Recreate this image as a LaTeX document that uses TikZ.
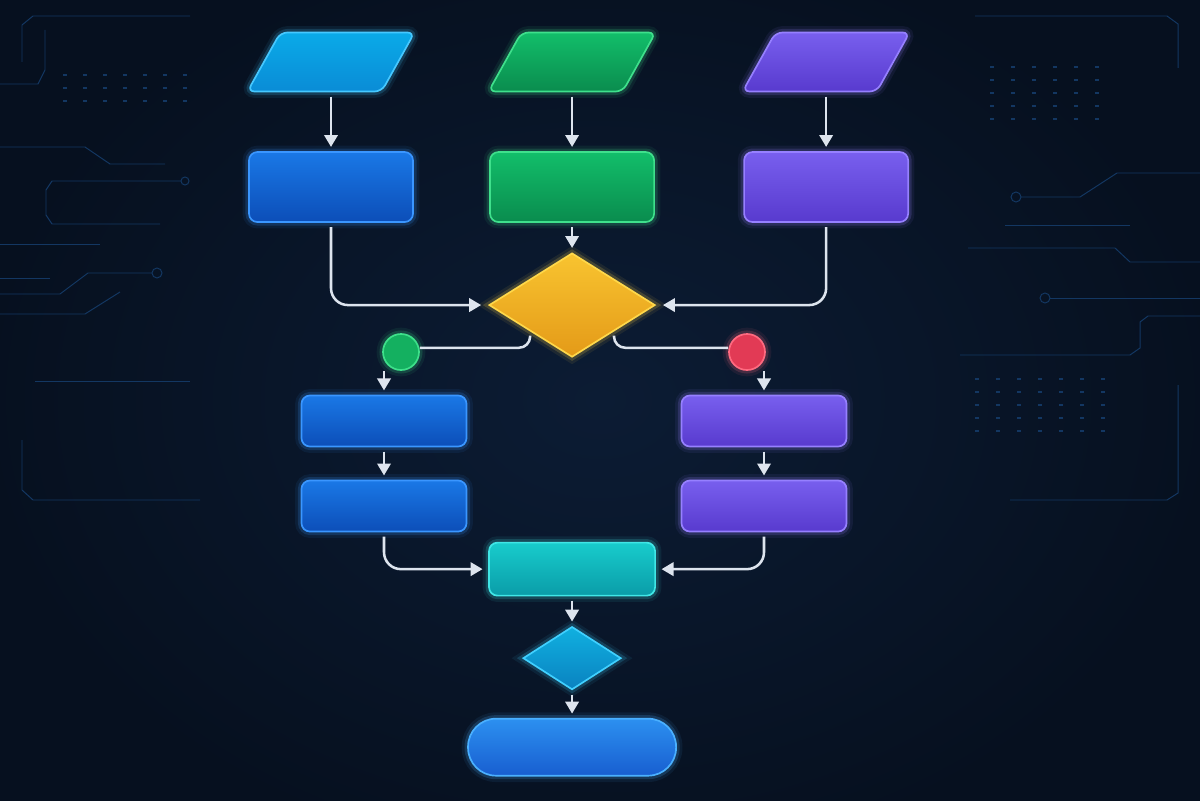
\documentclass[tikz,border=0pt]{standalone}
\usepackage{tikz}
\usetikzlibrary{arrows.meta,shapes.geometric}
\usetikzlibrary{positioning}
\definecolor{bgnavy}{HTML}{06101F}
\definecolor{bgglow}{HTML}{0C1C34}
\definecolor{tracecol}{HTML}{133762}
\definecolor{flowcol}{HTML}{DDE4EE}
\definecolor{cyantop}{HTML}{0AAAE8}
\definecolor{cyanbot}{HTML}{0A8CD6}
\definecolor{cyanedge}{HTML}{46C8FF}
\definecolor{bluetop}{HTML}{1A78E6}
\definecolor{bluebot}{HTML}{0C4EB8}
\definecolor{blueedge}{HTML}{3A96FF}
\definecolor{greentop}{HTML}{12BE6A}
\definecolor{greenbot}{HTML}{0A8C4E}
\definecolor{greenedge}{HTML}{3FE08C}
\definecolor{purpletop}{HTML}{785FEE}
\definecolor{purplebot}{HTML}{583ACE}
\definecolor{purpleedge}{HTML}{9680FF}
\definecolor{yellowtop}{HTML}{F8C430}
\definecolor{yellowbot}{HTML}{E49A18}
\definecolor{yellowedge}{HTML}{FFD84A}
\definecolor{tealtop}{HTML}{18CCCC}
\definecolor{tealbot}{HTML}{0A9CA8}
\definecolor{tealedge}{HTML}{40E6E6}
\definecolor{skytop}{HTML}{10B0E0}
\definecolor{skybot}{HTML}{0A82C0}
\definecolor{skyedge}{HTML}{40D0FF}
\definecolor{endtop}{HTML}{2C90F0}
\definecolor{endbot}{HTML}{185ED0}
\definecolor{endedge}{HTML}{4AB0FF}
\definecolor{okfill}{HTML}{14B060}
\definecolor{okedge}{HTML}{3EE08A}
\definecolor{nofill}{HTML}{E23A55}
\definecolor{noedge}{HTML}{FF6A80}
\tikzset{
    glow/.style={
           preaction={draw=#1, line width=9pt, draw opacity=0.08},
           preaction={draw=#1, line width=5pt, draw opacity=0.18},
           },
    inbox/.style={
           trapezium,
           trapezium left angle=72,
           trapezium right angle=108,
           trapezium stretches=true,
           minimum width=4.175cm,
           minimum height=1.475cm,
           rounded corners=5pt,
           line width=1.2pt,
           inner sep=2pt,
           },
    procbox/.style={
           rectangle,
           rounded corners=6pt,
           minimum width=4.1cm,
           minimum height=1.75cm,
           line width=1.2pt,
           },
    stepbox/.style={
           rectangle,
           rounded corners=6pt,
           minimum width=4.125cm,
           minimum height=1.275cm,
           line width=1.2pt,
           },
    choice/.style={
           diamond,
           inner sep=1pt,
           line width=1.2pt,
           },
    dot/.style={
           circle,
           minimum size=0.9cm,
           inner sep=0pt,
           line width=1.2pt,
           },
    flow/.style={
           ->, draw=flowcol, line width=1.8pt,
           shorten <=3pt, shorten >=3pt,
           },
    joint/.style={
           draw=flowcol, line width=1.8pt, rounded corners=8pt,
           },
    trace/.style={draw=tracecol, line width=0.7pt},
    % colour sets
    paint/.style={top color=#1top, bottom color=#1bot, draw=#1edge, glow=#1edge},
}

\begin{document}
\begin{tikzpicture}[x=0.025cm, y=-0.025cm, >={Triangle[length=8.5pt,width=9.5pt]}]
 \useasboundingbox (0,0) rectangle (1200,800);
 % background and faint circuit traces
 \begin{scope}
  \clip (-5,-5) rectangle (1205,805);
  \fill[bgnavy] (-5,-5) rectangle (1205,805);
  \shade[inner color=bgglow, outer color=bgnavy] (600,400) ellipse (620 and 470);
  \draw[trace] (22,62) -- (22,25) -- (33,16) -- (190,16);
  \draw[trace] (45,30) -- (45,70) -- (38,84) -- (0,84);
  \draw[trace] (0,147) -- (85,147) -- (110,164) -- (165,164);
  \draw[trace] (181,181) -- (52,181) -- (46,190) -- (46,215) -- (52,224) -- (160,224);
  \draw[trace] (185,181) circle (4);
  \draw[trace] (0,244) -- (100,244);
  \draw[trace] (0,278) -- (50,278);
  \draw[trace] (0,294) -- (60,294) -- (88,273) -- (152,273);
  \draw[trace] (157,273) circle (5);
  \draw[trace] (0,314) -- (85,314) -- (120,292);
  \draw[trace] (35,381) -- (190,381);
  \draw[trace] (22,440) -- (22,490) -- (33,500) -- (200,500);
  \draw[trace] (975,16) -- (1167,16) -- (1178,24) -- (1178,68);
  \draw[trace] (1200,173) -- (1117,173) -- (1080,197) -- (1021,197);
  \draw[trace] (1016,197) circle (5);
  \draw[trace] (1005,225) -- (1130,225);
  \draw[trace] (968,248) -- (1115,248) -- (1130,262) -- (1200,262);
  \draw[trace] (1050,298) -- (1200,298);
  \draw[trace] (1045,298) circle (5);
  \draw[trace] (960,355) -- (1130,355) -- (1140,348) -- (1140,322) -- (1148,316) -- (1200,316);
  \draw[trace] (1178,385) -- (1178,493) -- (1167,500) -- (1010,500);
  \foreach \x in {65,85,...,185} {
    \foreach \y in {75,88,101} {
      \fill[tracecol] (\x-2,\y-1) rectangle (\x+2,\y+1);
    }
  }
  \foreach \x in {992,1013,...,1117} {
    \foreach \y in {67,80,93,106,119} {
      \fill[tracecol] (\x-2,\y-1) rectangle (\x+2,\y+1);
    }
  }
  \foreach \x in {977,998,...,1117} {
    \foreach \y in {379,392,405,418,431} {
      \fill[tracecol] (\x-2,\y-1) rectangle (\x+2,\y+1);
    }
  }
 \end{scope}

 % inputs
 \node[inbox, paint=cyan] (inA) at (331,62) {};
 \node[inbox, paint=green,
 right of=inA,
 node distance=6.025cm] (inB) {};
 \node[inbox, paint=purple,
 right of=inB,
 node distance=6.35cm] (inC) {};

 % processes
 \node[procbox, paint=blue,
 below of=inA,
 node distance=3.125cm] (procA) {};
 \node[procbox, paint=green,
 below of=inB,
 node distance=3.125cm] (procB) {};
 \node[procbox, paint=purple,
 below of=inC,
 node distance=3.125cm] (procC) {};

 % decision
 \node[choice, paint=yellow,
 minimum width=4.15cm,
 minimum height=2.6cm,
 below of=procB,
 node distance=2.95cm] (decide) {};

 % yes / no markers
 \node[dot, fill=okfill, draw=okedge, glow=okedge] (yesdot) at (401,352) {};
 \node[dot, fill=nofill, draw=noedge, glow=noedge] (nodot) at (747,352) {};

 % branches
 \node[stepbox, paint=blue] (leftA) at (384,421) {};
 \node[stepbox, paint=blue,
 below of=leftA,
 node distance=2.125cm] (leftB) {};
 \node[stepbox, paint=purple] (rightA) at (764,421) {};
 \node[stepbox, paint=purple,
 below of=rightA,
 node distance=2.125cm] (rightB) {};

 % merge, check, end
 \node[stepbox, paint=teal,
 minimum width=4.15cm,
 minimum height=1.325cm,
 below of=decide,
 node distance=6.6cm] (merge) {};
 \node[choice, paint=sky,
 minimum width=2.45cm,
 minimum height=1.575cm,
 below of=merge,
 node distance=2.225cm] (check) {};
 \node[rectangle, rounded corners=0.7cm, line width=1.2pt, paint=end,
 minimum width=5.2cm,
 minimum height=1.425cm,
 below of=check,
 node distance=2.225cm] (finish) {};

 % draw the connectors
 \draw[flow] (inA) -- (procA);
 \draw[flow] (inB) -- (procB);
 \draw[flow] (inC) -- (procC);
 \draw[flow] (procB) -- (decide);
 \draw[flow, rounded corners=12pt, shorten >=5pt] (procA) |- (decide);
 \draw[flow, rounded corners=12pt, shorten >=5pt] (procC) |- (decide);
 \draw[joint] ([yshift=-3pt]decide.south west) |- ([yshift=3pt]yesdot.east);
 \draw[joint] ([yshift=-3pt]decide.south east) |- ([yshift=3pt]nodot.west);
 \draw[flow, shorten <=0pt] (yesdot.south -| leftA.north) -- (leftA);
 \draw[flow, shorten <=0pt] (nodot.south -| rightA.north) -- (rightA);
 \draw[flow] (leftA) -- (leftB);
 \draw[flow] (rightA) -- (rightB);
 \draw[flow, rounded corners=12pt, shorten >=4pt] (leftB) |- (merge);
 \draw[flow, rounded corners=12pt, shorten >=4pt] (rightB) |- (merge);
 \draw[flow] (merge) -- (check);
 \draw[flow] (check) -- (finish);
\end{tikzpicture}
\end{document}
